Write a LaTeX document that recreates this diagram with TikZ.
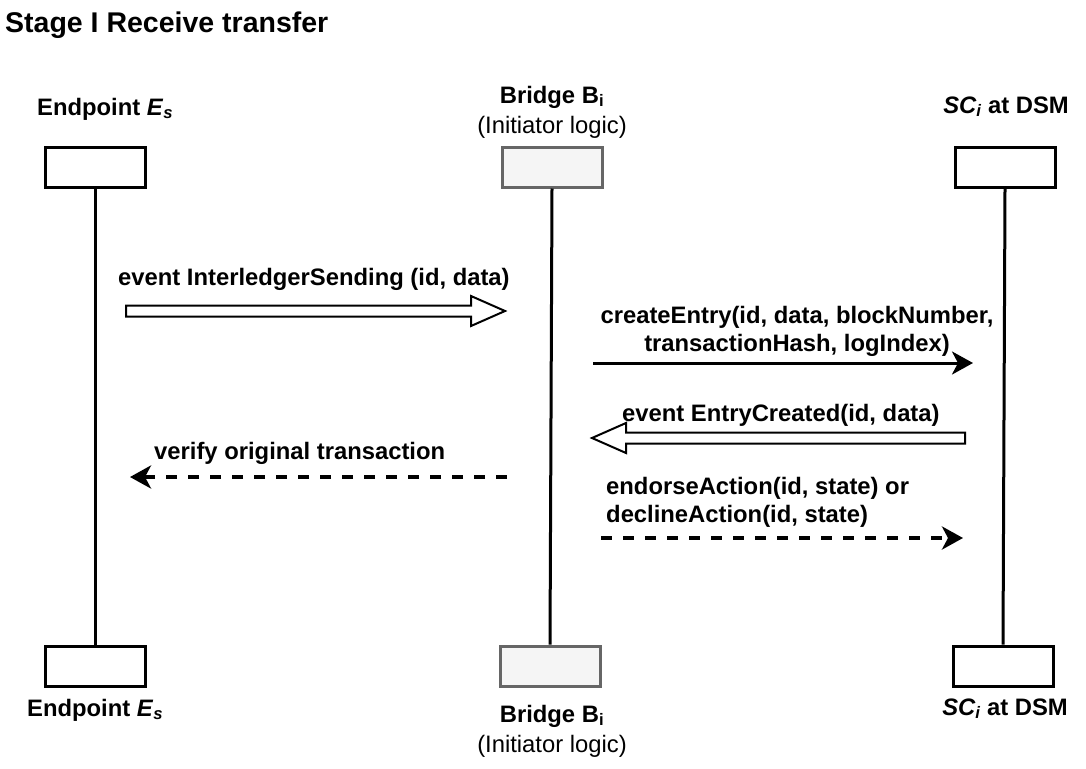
\documentclass[tikz,border=0pt]{standalone}
\usepackage{fontspec}
\setmainfont{Liberation Sans}
\usetikzlibrary{arrows.meta,calc}
\definecolor{boxgray}{HTML}{F5F5F5}
\definecolor{edgegray}{HTML}{666666}
\begin{document}
\begin{tikzpicture}[x=1pt,y=-1pt,
  lbl/.style={inner sep=0pt,font=\fontsize{23.8}{28.5}\selectfont\bfseries},
  lblr/.style={inner sep=0pt,font=\fontsize{23.8}{28.5}\selectfont},
  actor/.style={draw=black,line width=3pt,fill=white,minimum width=100pt,minimum height=40pt,inner sep=0pt},
  bridgebox/.style={actor,draw=edgegray,fill=boxgray},
  life/.style={line width=3pt},
  msg/.style={line width=3pt,-{Stealth[length=21pt,width=23pt,inset=6pt]}},
  dmsg/.style={line width=3.8pt,dash pattern=on 11pt off 11pt,-{Stealth[length=21pt,width=23pt,inset=6pt]}},
  blk/.style={draw=black,line width=2pt,fill=white,line join=miter}
]
\useasboundingbox (0,0) rectangle (1086,768);

\node[anchor=base west,inner sep=0pt,font=\fontsize{28.5}{32}\selectfont\bfseries] (title) at (5,33) {Stage I Receive transfer};

% lifeline boxes
\node[actor] (e1) at (95,167) {};
\node[actor] (e2) at (95,666) {};
\node[bridgebox] (b1) at (552,167) {};
\node[bridgebox] (b2) at (550,666) {};
\node[actor] (s1) at (1005,167) {};
\node[actor] (s2) at (1003,666) {};

\draw[life] (e1.south) -- (e2.north);
\draw[life] (b1.south) -- (b2.north);
\draw[life] (s1.south) -- (s2.north);

% actor labels
\node[lbl,anchor=base west] (le1) at (37,115) {Endpoint \textit{E}\textsubscript{\textit{s}}};
\node[lbl,anchor=base west] (le2) at (27,716) {Endpoint \textit{E}\textsubscript{\textit{s}}};
\node[lbl,anchor=base] (lb1) at (552,103) {Bridge B\textsubscript{i}};
\node[lblr,anchor=base] (lb1b) at (552,133) {(Initiator logic)};
\node[lbl,anchor=base] (lb2) at (552,722) {Bridge B\textsubscript{i}};
\node[lblr,anchor=base] (lb2b) at (552,752) {(Initiator logic)};
\node[lbl,anchor=base] (ls1) at (1006,113) {\textit{SC\textsubscript{i}} at DSM};
\node[lbl,anchor=base] (ls2) at (1005,715) {\textit{SC\textsubscript{i}} at DSM};

% message 1: hollow block arrow
\coordinate (m1s) at (126,311);
\coordinate (m1e) at (505,311);
\draw[blk] ($(m1s)+(0,-5.5)$) -- ($(m1e)+(-34,-5.5)$) -- ($(m1e)+(-34,-15)$) -- (m1e)
  -- ($(m1e)+(-34,15)$) -- ($(m1e)+(-34,5.5)$) -- ($(m1s)+(0,5.5)$) -- cycle;
\node[lbl,anchor=base west] (t1) at (118,285) {event InterledgerSending (id, data)};

% message 2
\coordinate (m2s) at (593,363);
\coordinate (m2e) at (973,363);
\draw[msg] (m2s) -- (m2e);
\node[lbl,anchor=base] (t2) at (797,323) {createEntry(id, data, blockNumber,};
\node[lbl,anchor=base] (t2b) at (797,351) {transactionHash, logIndex)};

% message 3: hollow block arrow leftwards
\coordinate (m3s) at (965,438);
\coordinate (m3e) at (592,438);
\draw[blk] ($(m3s)+(0,-5.5)$) -- ($(m3e)+(34,-5.5)$) -- ($(m3e)+(34,-15)$) -- (m3e)
  -- ($(m3e)+(34,15)$) -- ($(m3e)+(34,5.5)$) -- ($(m3s)+(0,5.5)$) -- cycle;
\node[lbl,anchor=base west] (t3) at (622,421) {event EntryCreated(id, data)};

% message 4
\coordinate (m4s) at (507,477);
\coordinate (m4e) at (130,477);
\draw[dmsg] (m4s) -- (m4e);
\node[lbl,anchor=base west] (t4) at (154,459) {verify original transaction};

% message 5
\coordinate (m5s) at (601,538);
\coordinate (m5e) at (963,538);
\draw[dmsg] (m5s) -- (m5e);
\node[lbl,anchor=base west] (t5) at (606,494) {endorseAction(id, state) or};
\node[lbl,anchor=base west] (t5b) at (606,522) {declineAction(id, state)};
\end{tikzpicture}
\end{document}
